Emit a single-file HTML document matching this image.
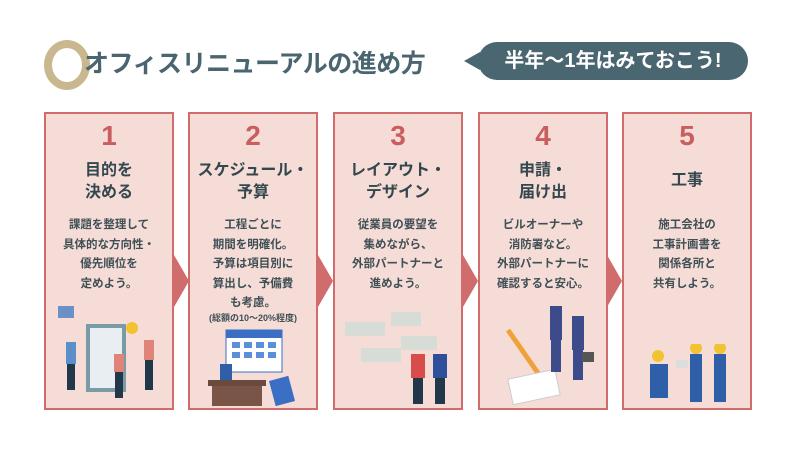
<!DOCTYPE html>
<html><head><meta charset="utf-8"><style>
*{margin:0;padding:0;box-sizing:border-box}
body{width:800px;height:450px;background:#fff;position:relative;overflow:hidden;font-family:"Liberation Sans","Noto Sans CJK JP",sans-serif}
.ring{position:absolute;left:44px;top:40px;width:46px;height:50px;border:8px solid #c9b88f;border-radius:50%}
.title{position:absolute;left:84px;top:44px;font-size:25px;font-weight:bold;color:#4a6570;letter-spacing:-0.5px;white-space:nowrap}
.pill{position:absolute;left:478px;top:42px;width:270px;height:38px;background:#4a6670;border-radius:19px;color:#fff;font-size:20px;font-weight:bold;text-align:center;line-height:38px}
.tail{position:absolute;left:464px;top:52px;width:0;height:0;border-top:9px solid transparent;border-bottom:9px solid transparent;border-right:16px solid #4a6670}
.box{position:absolute;top:112px;width:130px;height:298px;background:#f6dcd7;border:2.5px solid #d06c6c;text-align:center;color:#3e4f55}
.num{position:absolute;top:6px;left:0;right:0;font-size:28px;font-weight:bold;color:#c95e5e}
.hd{position:absolute;left:0;right:0;font-size:16px;font-weight:bold;line-height:22px;color:#34474e}
.tx{position:absolute;top:102px;left:0;right:0;font-size:11.5px;font-weight:bold;line-height:19.5px;color:#3e4f55}
.arr{position:absolute;top:255px;width:0;height:0;border-top:26px solid transparent;border-bottom:26px solid transparent;border-left:15px solid #d06c6c}
</style></head><body>
<div class="ring"></div>
<div class="title">オフィスリニューアルの進め方</div>
<div class="tail"></div>
<div class="pill">半年〜1年はみておこう!</div>

<div class="box" style="left:44px">
<div class="num">1</div>
<div class="hd" style="top:46px">目的を<br>決める</div>
<div class="tx">課題を整理して<br>具体的な方向性・<br>優先順位を<br>定めよう。</div>
<svg style="position:absolute;left:10px;top:190px" width="110" height="100">
<rect x="2" y="2" width="16" height="12" fill="#6c8fc7"/>
<rect x="30" y="20" width="40" height="68" fill="#7a9aa6"/><rect x="34" y="24" width="32" height="60" fill="#e8eef2"/>
<circle cx="76" cy="24" r="6" fill="#f2c230"/>
<rect x="10" y="38" width="10" height="22" fill="#5b8fc9"/><rect x="11" y="60" width="8" height="26" fill="#22384a"/>
<rect x="58" y="50" width="10" height="18" fill="#e0847a"/><rect x="59" y="68" width="8" height="26" fill="#22384a"/>
<rect x="88" y="36" width="10" height="20" fill="#e0847a"/><rect x="89" y="56" width="8" height="30" fill="#22384a"/>
</svg>
</div>
<div class="arr" style="left:174px"></div>

<div class="box" style="left:188px">
<div class="num">2</div>
<div class="hd" style="top:46px">スケジュール・<br>予算</div>
<div class="tx">工程ごとに<br>期間を明確化。<br>予算は項目別に<br>算出し、予備費<br>も考慮。</div>
<div style="position:absolute;top:197px;left:0;right:0;font-size:9px;font-weight:bold;color:#3e4f55">(総額の10〜20%程度)</div>
<svg style="position:absolute;left:14px;top:212px" width="110" height="82">
<rect x="22" y="4" width="56" height="42" fill="#fff" stroke="#3a6fc4"/><rect x="22" y="4" width="56" height="8" fill="#3a6fc4"/>
<g fill="#5b8fd9"><rect x="28" y="16" width="8" height="6"/><rect x="40" y="16" width="8" height="6"/><rect x="52" y="16" width="8" height="6"/><rect x="64" y="16" width="8" height="6"/><rect x="28" y="26" width="8" height="6"/><rect x="40" y="26" width="8" height="6"/><rect x="52" y="26" width="8" height="6"/><rect x="64" y="26" width="8" height="6"/></g>
<rect x="4" y="54" width="58" height="6" fill="#6b4a3e"/><rect x="8" y="60" width="50" height="20" fill="#7a5446"/>
<rect x="16" y="38" width="12" height="16" fill="#2f5fa8"/>
<rect x="68" y="52" width="20" height="26" fill="#3a6fc4" transform="rotate(-15 78 65)"/>
</svg>
</div>
<div class="arr" style="left:318px"></div>

<div class="box" style="left:333px">
<div class="num">3</div>
<div class="hd" style="top:46px">レイアウト・<br>デザイン</div>
<div class="tx">従業員の要望を<br>集めながら、<br>外部パートナーと<br>進めよう。</div>
<svg style="position:absolute;left:6px;top:186px" width="122" height="108">
<g fill="#d8dcd6"><rect x="4" y="22" width="40" height="14"/><rect x="50" y="12" width="30" height="14"/><rect x="20" y="48" width="40" height="14"/><rect x="60" y="36" width="36" height="14"/></g>
<rect x="70" y="54" width="14" height="24" fill="#d94c4c"/><rect x="72" y="78" width="10" height="26" fill="#22384a"/>
<rect x="92" y="54" width="14" height="24" fill="#2f4f9a"/><rect x="94" y="78" width="10" height="26" fill="#22384a"/>
</svg>
</div>
<div class="arr" style="left:463px"></div>

<div class="box" style="left:478px">
<div class="num">4</div>
<div class="hd" style="top:46px">申請・<br>届け出</div>
<div class="tx">ビルオーナーや<br>消防署など。<br>外部パートナーに<br>確認すると安心。</div>
<svg style="position:absolute;left:10px;top:186px" width="112" height="108">
<line x1="18" y1="30" x2="50" y2="76" stroke="#f0a23a" stroke-width="5"/>
<rect x="20" y="74" width="48" height="26" fill="#fff" stroke="#ccc" transform="rotate(-12 44 87)"/>
<rect x="60" y="6" width="12" height="34" fill="#3e4b8a"/><rect x="61" y="40" width="10" height="32" fill="#3e4b8a"/>
<rect x="82" y="16" width="12" height="34" fill="#3e4b8a"/><rect x="83" y="50" width="10" height="30" fill="#3e4b8a"/>
<rect x="92" y="52" width="12" height="10" fill="#555"/>
</svg>
</div>
<div class="arr" style="left:607px"></div>

<div class="box" style="left:622px">
<div class="num">5</div>
<div class="hd" style="top:56px">工事</div>
<div class="tx">施工会社の<br>工事計画書を<br>関係各所と<br>共有しよう。</div>
<svg style="position:absolute;left:14px;top:230px" width="104" height="60">
<circle cx="20" cy="12" r="6" fill="#f2c230"/><rect x="12" y="20" width="18" height="34" fill="#2f5fa8"/>
<circle cx="58" cy="4" r="6" fill="#f2c230"/><rect x="52" y="10" width="12" height="48" fill="#2f5fa8"/>
<circle cx="82" cy="4" r="6" fill="#f2c230"/><rect x="76" y="10" width="12" height="48" fill="#2f5fa8"/>
<rect x="38" y="16" width="12" height="8" fill="#ddd"/>
</svg>
</div>
</body></html>
